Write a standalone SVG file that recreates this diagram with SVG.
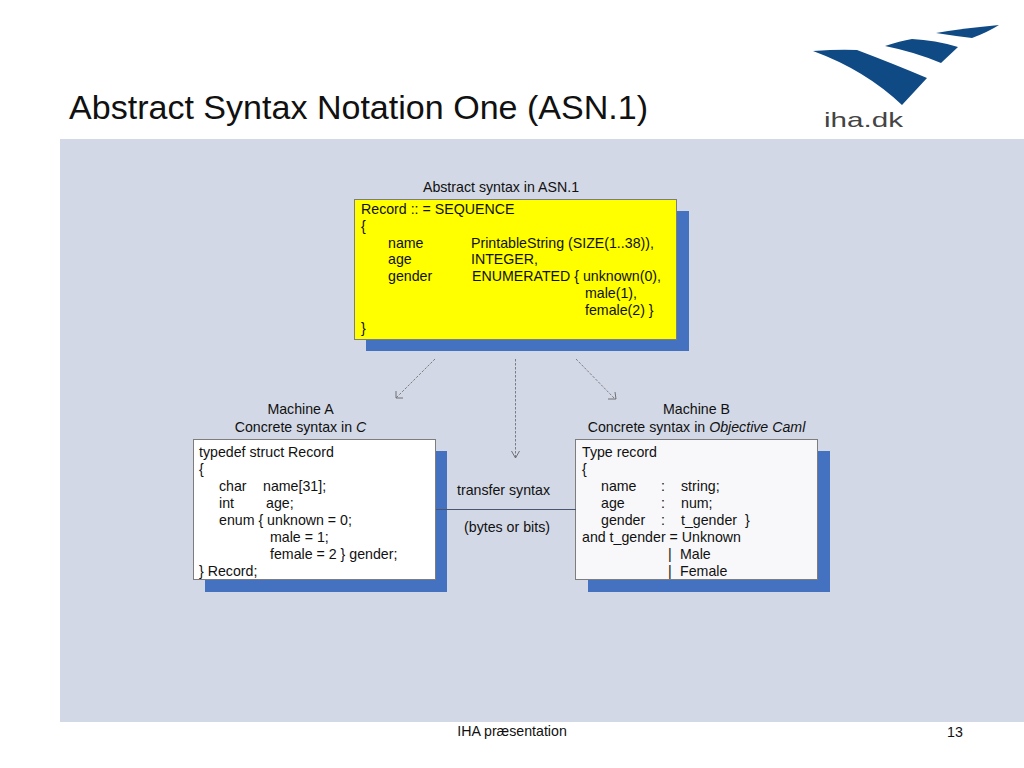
<svg xmlns="http://www.w3.org/2000/svg" width="1024" height="768" viewBox="0 0 1024 768">
<style>
text{font-family:"Liberation Sans",Arial,sans-serif;font-size:14.2px;fill:#111}
.m{text-anchor:middle}
.box{stroke:#7d7d7d;stroke-width:1}
.sh{fill:#4472c0}
.dash{fill:none;stroke:#666;stroke-width:.8;stroke-dasharray:2.5 1.5}
.head{fill:none;stroke:#555;stroke-width:.8}
.logo{fill:#0f4a85}
</style>
<rect width="1024" height="768" fill="#fff"/>
<rect id="panel" x="60" y="139" width="964" height="583" fill="#d3d8e6"/>
<g id="title"><text x="69" y="119" style="font-size:34.05px">Abstract Syntax Notation One (ASN.1)</text></g>
<g id="logo">
<path class="logo" d="M813 51Q840 49 857 50Q894 64 927 78L902 105Q865 70 813 51Z"/>
<path class="logo" d="M885 46Q900 41 912 39Q935 40 958 47L941 63Q915 52 885 46Z"/>
<path class="logo" d="M936 33Q965 28 999 25Q988 32 972 38Q955 36 936 33Z"/>
<text x="824" y="127" textLength="79" lengthAdjust="spacingAndGlyphs" style="font-size:21px;fill:#444">iha.dk</text>
</g>
<g id="abstract">
<text class="m" x="501" y="192">Abstract syntax in ASN.1</text>
<rect class="sh" x="366" y="211" width="323" height="140"/>
<rect class="box" x="354.500" y="199.500" width="322" height="140" fill="#ffff00"/>
<text x="361" y="214">Record :: = SEQUENCE</text>
<text x="361" y="231">{</text>
<text x="388" y="248">name</text><text x="471" y="248">PrintableString (SIZE(1..38)),</text>
<text x="388" y="264">age</text><text x="471" y="264">INTEGER,</text>
<text x="388" y="281">gender</text><text x="472" y="281">ENUMERATED { unknown(0),</text>
<text x="585" y="298">male(1),</text>
<text x="585" y="315">female(2) }</text>
<text x="361" y="333">}</text>
</g>
<g id="machine-a">
<text class="m" x="300.500" y="414">Machine A</text>
<text class="m" x="300.500" y="432">Concrete syntax in <tspan font-style="italic">C</tspan></text>
<rect class="sh" x="205" y="451" width="242" height="141"/>
<rect class="box" x="193.500" y="439.500" width="242" height="140" fill="#ffffff"/>
<text x="199" y="457">typedef struct Record</text>
<text x="199" y="474">{</text>
<text x="219" y="491">char</text><text x="263" y="491">name[31];</text>
<text x="219" y="508">int</text><text x="266" y="508">age;</text>
<text x="219" y="525">enum { unknown = 0;</text>
<text x="270" y="542">male = 1;</text>
<text x="270" y="559">female = 2 } gender;</text>
<text x="199" y="576">} Record;</text>
</g>
<g id="transfer">
<text class="m" x="503.500" y="495">transfer syntax</text>
<text class="m" x="507" y="532">(bytes or bits)</text>
</g>
<g id="machine-b">
<text class="m" x="696.500" y="414">Machine B</text>
<text class="m" x="696.500" y="432">Concrete syntax in <tspan font-style="italic">Objective Caml</tspan></text>
<rect class="sh" x="588" y="451" width="242" height="141"/>
<rect class="box" x="575.500" y="439.500" width="242" height="140" fill="#f8f8fa"/>
<text x="582" y="457">Type record</text>
<text x="582" y="474">{</text>
<text x="601" y="491">name</text><text x="661" y="491">:</text><text x="681" y="491">string;</text>
<text x="601" y="508">age</text><text x="661" y="508">:</text><text x="681" y="508">num;</text>
<text x="601" y="525">gender</text><text x="661" y="525">:</text><text x="681" y="525">t_gender</text><text x="745" y="525">}</text>
<text x="582" y="542">and t_gender = Unknown</text>
<text x="668" y="559">|</text><text x="680" y="559">Male</text>
<text x="668" y="576">|</text><text x="680" y="576">Female</text>
</g>
<g id="connectors">
<path d="M436 509.500H576" fill="none" stroke="#4a5670" stroke-width="1"/>
<path class="dash" d="M435 359L396 398"/><path class="head" d="M396 391L396 398L403 398"/>
<path class="dash" d="M515.500 359V457"/><path class="head" d="M511.500 451L515.500 458L519.500 451"/>
<path class="dash" d="M576 359L615 399"/><path class="head" d="M608 399L616 399L615 392"/>
</g>
<g id="footer">
<text class="m" x="512" y="736">IHA præsentation</text>
<text x="947" y="737">13</text>
</g>
</svg>
